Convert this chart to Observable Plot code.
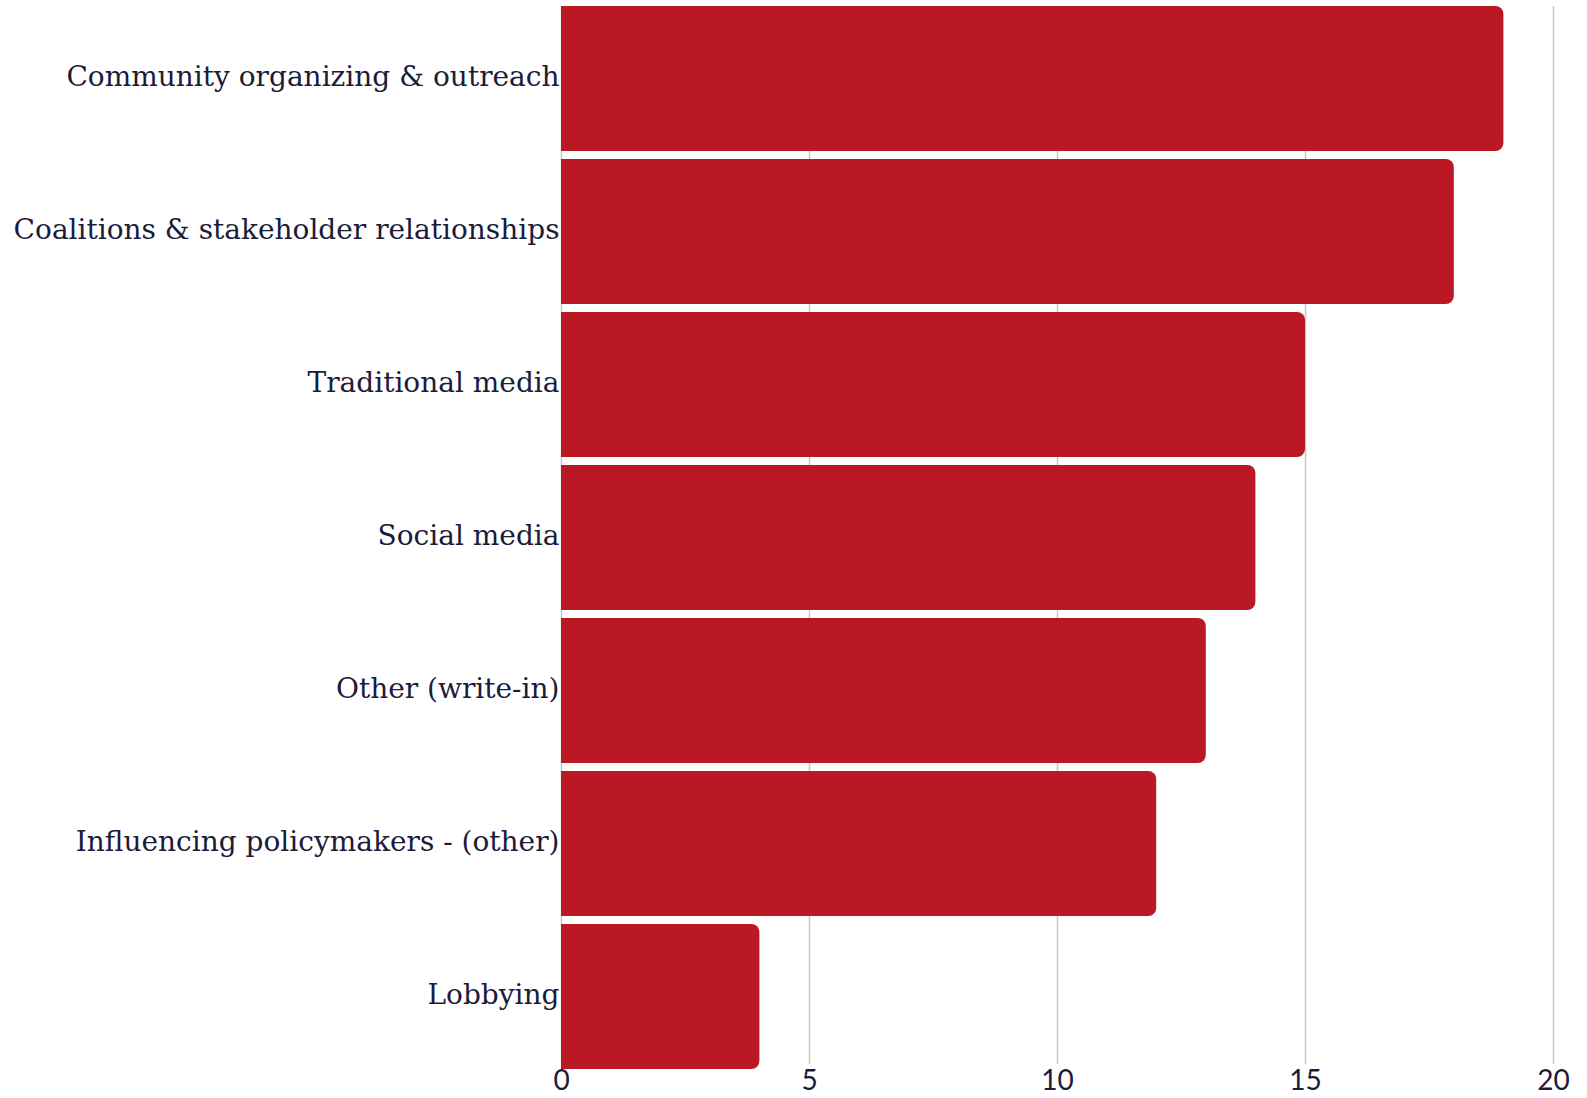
<!DOCTYPE html>
<html>
<head>
<meta charset="utf-8">
<script src="https://cdn.jsdelivr.net/npm/d3@7"></script>
<script src="https://cdn.jsdelivr.net/npm/@observablehq/plot@0.6"></script>
<style>
  html, body { margin: 0; padding: 0; background: #fff; }
  #chart svg { display: block; }
  g[aria-label="y-axis tick label"] text { font-family: "DejaVu Serif", serif; font-size: 28px; }
  g[aria-label="x-axis tick label"] text { font-family: Lato, sans-serif; font-size: 28px; }
</style>
</head>
<body>
<div id="chart"></div>
<script>
const categories = [
  "Community organizing & outreach",
  "Coalitions & stakeholder relationships",
  "Traditional media",
  "Social media",
  "Other (write-in)",
  "Influencing policymakers - (other)",
  "Lobbying"
];
const values = [19, 18, 15, 14, 13, 12, 4];
const xTicks = [0, 5, 10, 15, 20];

const data = categories.map((c, i) => ({category: c, value: values[i]}));

const chart = Plot.plot({
  width: 1587,
  height: 1098,
  marginLeft: 561,
  marginRight: 34,
  marginTop: 2,
  marginBottom: 26,
  style: {background: "#fff", color: "#1b1b3a"},
  x: {domain: [0, 20], label: null},
  y: {domain: categories, paddingInner: 0.054, paddingOuter: 0.02, round: true, label: null},
  marks: [
    Plot.ruleX(xTicks, {stroke: "#c8c8c8", strokeWidth: 1.5, insetTop: 4, insetBottom: 8}),
    Plot.barX(data, {x: "value", y: "category", fill: "#BA1924", rx: 8}),
    Plot.barX(data, {x1: 0, x2: d => d.value / 2, y: "category", fill: "#BA1924", shapeRendering: "crispEdges"}),
    Plot.axisX({ticks: xTicks, tickSize: 0, tickPadding: 0, dy: -2, label: null}),
    Plot.axisY({tickSize: 0, tickPadding: 2, dy: -2, label: null})
  ]
});
document.getElementById("chart").appendChild(chart);
</script>
</body>
</html>
